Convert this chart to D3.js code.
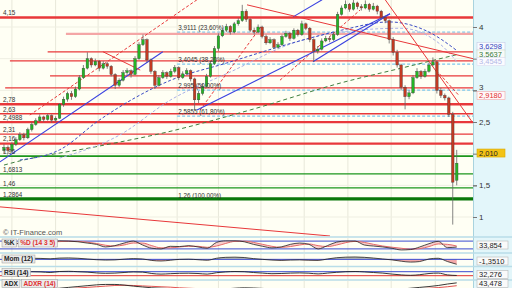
<!DOCTYPE html>
<html lang="fr">
<head>
<meta charset="UTF-8">
<title>Cours - IT-Finance</title>
<script src="https://d3js.org/d3.v7.min.js"></script>
<style>
  body { margin: 0; background: #ffffff; }
  svg { display: block; font-family: 'Liberation Sans', Arial, sans-serif; }
  .lvl-label, .fib-label { font-size: 6.3px; fill: #333; }
  .y-axis text { font-size: 8px; fill: #333; }
  .y-axis line { stroke: #777; }
  .y-axis path { display: none; }
  .tag text { font-size: 7.5px; }
  .box-label { font-size: 6.6px; font-weight: bold; }
</style>
</head>
<body>
<svg width="512" height="288"></svg>
<script>
// ---- data ----
// daily candles: [open, high, low, close]
const candles = [
  [2.05,2.15,2.00,2.10],[2.10,2.13,2.00,2.05],[2.05,2.18,2.03,2.15],[2.15,2.26,2.12,2.22],[2.22,2.34,2.20,2.30],
  [2.30,2.33,2.21,2.25],[2.25,2.41,2.23,2.38],[2.38,2.50,2.35,2.46],[2.46,2.56,2.44,2.52],[2.52,2.62,2.50,2.58],
  [2.58,2.60,2.50,2.54],[2.54,2.63,2.52,2.60],[2.60,2.62,2.49,2.53],[2.53,2.59,2.50,2.56],[2.56,2.80,2.55,2.78],
  [2.78,2.90,2.74,2.86],[2.86,2.98,2.82,2.95],[2.95,2.99,2.85,2.90],[2.90,3.06,2.88,3.02],[3.02,3.24,3.00,3.20],
  [3.20,3.40,3.18,3.35],[3.35,3.60,3.33,3.50],[3.50,3.52,3.36,3.40],[3.40,3.50,3.38,3.46],[3.46,3.48,3.30,3.35],
  [3.35,3.46,3.33,3.42],[3.42,3.45,3.34,3.38],[3.38,3.40,3.22,3.25],[3.25,3.27,3.02,3.08],[3.08,3.19,3.05,3.16],
  [3.16,3.32,3.14,3.28],[3.28,3.35,3.24,3.31],[3.31,3.33,3.20,3.25],[3.25,3.54,3.24,3.50],[3.50,3.76,3.48,3.72],
  [3.72,3.88,3.70,3.80],[3.80,3.82,3.44,3.48],[3.48,3.50,3.26,3.30],[3.30,3.32,3.02,3.08],[3.08,3.24,3.06,3.20],
  [3.20,3.32,3.18,3.28],[3.28,3.30,3.18,3.22],[3.22,3.34,3.20,3.30],[3.30,3.40,3.27,3.36],[3.36,3.38,3.16,3.20],
  [3.20,3.30,3.18,3.26],[3.26,3.35,3.24,3.31],[3.31,3.33,3.14,3.18],[3.18,3.20,2.69,2.85],[2.85,2.99,2.80,2.95],
  [2.95,3.10,2.92,3.06],[3.06,3.26,3.04,3.22],[3.22,3.46,3.20,3.42],[3.42,3.70,3.40,3.66],[3.66,3.90,3.62,3.86],
  [3.86,3.99,3.84,3.95],[3.95,4.05,3.92,4.01],[4.01,4.03,3.88,3.92],[3.92,4.08,3.90,4.05],[4.05,4.14,4.02,4.10],
  [4.10,4.35,4.08,4.25],[4.25,4.28,4.08,4.12],[4.12,4.14,3.92,3.95],[3.95,3.99,3.88,3.92],[3.92,4.04,3.90,4.00],
  [4.00,4.02,3.82,3.85],[3.85,3.88,3.72,3.75],[3.75,3.84,3.73,3.80],[3.80,3.82,3.65,3.68],[3.68,3.76,3.66,3.72],
  [3.72,3.88,3.70,3.85],[3.85,3.94,3.83,3.90],[3.90,3.92,3.78,3.82],[3.82,3.98,3.80,3.95],[3.95,3.97,3.85,3.88],
  [3.88,4.10,3.86,4.05],[4.05,4.07,3.95,3.98],[3.98,4.00,3.76,3.80],[3.80,3.82,3.45,3.62],[3.62,3.70,3.58,3.65],
  [3.65,3.82,3.63,3.78],[3.78,3.86,3.76,3.82],[3.82,3.85,3.76,3.80],[3.80,3.92,3.78,3.88],[3.88,4.24,3.86,4.20],
  [4.20,4.34,4.18,4.30],[4.30,4.42,4.28,4.36],[4.36,4.38,4.24,4.28],[4.28,4.45,4.26,4.38],[4.38,4.40,4.28,4.32],
  [4.32,4.36,4.26,4.30],[4.30,4.42,4.28,4.36],[4.36,4.38,4.24,4.28],[4.28,4.38,4.26,4.33],[4.33,4.35,4.20,4.25],
  [4.25,4.27,4.12,4.15],[4.15,4.18,4.06,4.10],[4.10,4.12,3.74,3.80],[3.80,3.84,3.55,3.60],[3.60,3.64,3.36,3.40],
  [3.40,3.42,3.00,3.05],[3.05,3.08,2.70,2.90],[2.90,3.00,2.86,2.96],[2.96,3.24,2.94,3.20],[3.20,3.35,3.18,3.30],
  [3.30,3.32,3.18,3.22],[3.22,3.34,3.20,3.30],[3.30,3.44,3.28,3.40],[3.40,3.52,3.38,3.45],[3.45,3.47,2.95,3.00],
  [3.00,3.04,2.88,2.92],[2.92,2.95,2.84,2.88],[2.88,2.90,2.58,2.62],[2.62,2.66,0.88,1.55],[1.58,2.06,1.50,1.85]
];

// horizontal support / resistance levels
const redLevels = [4.15, 3.89, 3.607, 3.464, 3.227, 3.038, 2.78, 2.63, 2.4988, 2.31, 2.16];
const redFrom   = [-1, 15.6, 11, 1.5, 11.6, 0.3, -1, -1, -1, -1, -1];   // candle index where each level starts
const redLabels = ["4,15", "", "", "", "", "", "2,78", "2,63", "2,4988", "2,31", "2,16"];
const greenLevels = [1.96, 1.6813, 1.46, 1.2864];
const greenLabels = ["1,96", "1,6813", "1,46", "1,2864"];

// fibonacci retracement
const fibValues = [3.9111, 3.4045, 2.995, 2.5855, 1.26];
const fibPct = ["23,60%", "38,20%", "50,00%", "61,80%", "100,00%"];
const fibFrom = 43.6;

// moving averages (candle index, value)
const maBlueIdx = [4, 14, 24, 42, 56, 75, 85, 97, 107, 114];
const maBlue    = [1.90, 2.06, 2.53, 3.16, 3.43, 3.79, 3.95, 4.08, 3.92, 3.6298];
const maLavIdx  = [14, 29, 42, 57, 73, 89, 100, 110, 114];
const maLav     = [1.93, 2.29, 2.85, 3.29, 3.75, 3.95, 3.98, 3.72, 3.4545];
const maGreenIdx = [0, 3, 24, 41, 62, 85, 100, 114];
const maGreen    = [1.82, 1.87, 2.12, 2.34, 2.69, 3.12, 3.35, 3.5637];

// trend lines [idx1, price1, idx2, price2]
const blueTrends = [[-1, 1.87, 40, 3.61], [48.6, 2.69, 97.2, 4.21], [77.8, 3.45, 97.2, 4.21], [72.8, 4.16, 80.1, 4.43]];
const redTrends = [[61.2, 4.35, 118.1, 3.50], [96, 4.43, 117.9, 2.50], [24.9, 3.61, 34.3, 3.32], [-1, 1.16, 82.1, 0.70]];
const redDashTrends = [[6.5, 2.61, 48.6, 4.43], [49.4, 2.69, 65, 4.03], [69.5, 3.16, 89.7, 4.27], [108.8, 3.32, 114.4, 2.93]];

// right-hand price tags
const tagValues = [3.6298, 3.5637, 3.4545, 2.918, 2.010];
const tagTexts  = ["3,6298", "3,5637", "3,4545", "2,9180", "2,010"];

const priceTicks = [1, 1.5, 2, 2.5, 3, 3.5, 4];
const gridIdx = [2, 13, 23.7, 33.5, 43.6, 54, 64.7, 75.6, 86.6, 97.5, 108.6];

// indicators (same spacing, last point = last candle)
const kValues = [60,55,75,85,80,70,82,80,75,65,55,35,45,65,80,50,25,20,40,38,45,35,25,70,82,82,75,55,40,28,35,55,65,55,20,45,72,80,80,50,42,35,25,12,15,35,60,78,30,33.854];
const dValues = [62,58,65,75,80,75,76,79,78,72,62,48,42,50,65,65,45,28,28,35,40,40,32,42,62,78,80,70,55,40,32,38,50,58,45,38,50,68,78,70,55,42,33,25,18,22,38,58,55,42];
const momValues = [0.15,0.10,0.25,0.30,0.25,0.15,0.35,0.40,0.30,0.10,-0.10,-0.20,-0.15,0.05,0.20,0.10,-0.30,-0.45,-0.25,0.00,0.05,-0.10,-0.25,0.30,0.55,0.60,0.50,0.20,0.00,-0.20,-0.30,-0.20,-0.15,-0.25,-0.30,0.10,0.45,0.60,0.65,0.55,0.35,0.10,-0.15,-0.50,-0.75,-0.60,0.10,0.30,-0.60,-1.351];
const rsiValues = [58,56,65,70,68,62,72,74,70,66,58,54,56,62,68,66,52,46,50,54,55,52,46,60,68,72,70,62,56,50,52,56,58,55,48,56,64,70,72,68,62,56,46,38,34,40,52,56,38,32.276];
const adxValues = [10,10,12,14,15,16,18,22,26,30,34,36,36,33,28,24,20,18,16,14,12,11,10,12,15,18,20,19,17,15,13,12,11,10,10,11,12,14,15,15,14,13,12,14,18,22,26,31,38,43.478];
const adxrValues = [9,9,10,11,12,13,14,16,19,22,25,28,31,32,31,29,27,25,23,20,18,16,14,13,13,14,15,16,16,16,15,14,13,12,11,11,11,12,13,13,13,13,13,13,14,16,18,21,25,30];

// ---- layout ----
const W = 512, H = 288;
const plotRight = 473;
const mainBottom = 237;
const comma = v => String(v).replace(".", ",");

const svg = d3.select("svg");
const x = d3.scaleLinear().domain([-1, 118.1]).range([0, plotRight]);
const y = d3.scaleLinear().domain([1, 4]).range([217, 27]);
const xEnd = 118.1;

const defs = svg.append("defs");
defs.append("clipPath").attr("id", "clipMain").append("rect")
    .attr("x", 0).attr("y", 0).attr("width", plotRight).attr("height", mainBottom);

// backgrounds
svg.append("rect").attr("width", W).attr("height", H).attr("fill", "#fffff4");
svg.append("rect").attr("x", plotRight).attr("width", W - plotRight).attr("height", H).attr("fill", "#e3f6fa");
svg.append("line").attr("x1", plotRight + 0.5).attr("x2", plotRight + 0.5).attr("y1", 0).attr("y2", H)
    .attr("stroke", "#a9d3de");

const gMain = svg.append("g").attr("clip-path", "url(#clipMain)");

// grid
gMain.selectAll(".vgrid").data(gridIdx).join("line")
    .attr("x1", d => x(d)).attr("x2", d => x(d)).attr("y1", 0).attr("y2", mainBottom)
    .attr("stroke", "#e8e8da");
gMain.selectAll(".hgrid").data(priceTicks).join("line")
    .attr("x1", 0).attr("x2", plotRight).attr("y1", d => y(d)).attr("y2", d => y(d))
    .attr("stroke", "#efefe2");

// fibonacci dashed levels
gMain.selectAll(".fib").data(fibValues.slice(0, 4)).join("line")
    .attr("x1", x(fibFrom)).attr("x2", x(xEnd)).attr("y1", d => y(d) - 0.5).attr("y2", d => y(d) - 0.5)
    .attr("stroke", "#7cc8ee").attr("stroke-width", 1.2).attr("stroke-dasharray", "3,2");

// red levels
const heavyRed = [4.15, 2.78, 2.4988, 2.16];
gMain.selectAll(".red-lvl").data(redLevels).join("line")
    .attr("x1", (d, i) => x(redFrom[i])).attr("x2", x(xEnd))
    .attr("y1", d => y(d)).attr("y2", d => y(d))
    .attr("stroke", d => d === 3.89 ? "#f4a6a6" : "#e8383a")
    .attr("stroke-width", d => d === 3.89 ? 2.2 : (heavyRed.includes(d) ? 2.3 : 1.3));

// green levels
gMain.selectAll(".green-lvl").data(greenLevels).join("line")
    .attr("x1", x(-1)).attr("x2", x(xEnd))
    .attr("y1", d => y(d)).attr("y2", d => y(d))
    .attr("stroke", (d, i) => i === 3 ? "#0a780a" : "#1c961c")
    .attr("stroke-width", (d, i) => i === 3 ? 3.2 : (i === 0 ? 1.8 : 1.3));

// moving averages
const maLine = d3.line().x(d => x(d[0])).y(d => y(d[1])).curve(d3.curveMonotoneX);
gMain.append("path").datum(d3.zip(maGreenIdx, maGreen)).attr("d", maLine)
    .attr("fill", "none").attr("stroke", "#3f7f3f").attr("stroke-width", 1).attr("stroke-dasharray", "4,3");
gMain.append("path").datum(d3.zip(maLavIdx, maLav)).attr("d", maLine)
    .attr("fill", "none").attr("stroke", "#aab0e6").attr("stroke-width", 1).attr("stroke-dasharray", "3,2");
gMain.append("path").datum(d3.zip(maBlueIdx, maBlue)).attr("d", maLine)
    .attr("fill", "none").attr("stroke", "#3b4cc4").attr("stroke-width", 1).attr("stroke-dasharray", "3,2");

// trend lines
function drawTrends(data, color, width, dash) {
    gMain.append("g").selectAll("line").data(data).join("line")
        .attr("x1", d => x(d[0])).attr("y1", d => y(d[1]))
        .attr("x2", d => x(d[2])).attr("y2", d => y(d[3]))
        .attr("stroke", color).attr("stroke-width", width)
        .attr("stroke-dasharray", dash);
}
drawTrends(redDashTrends, "#e8383a", 1, "3,2");
drawTrends(blueTrends, "#3a42e0", 1.1, null);
drawTrends(redTrends, "#e8383a", 1, null);

// candles
const bw = 2.6;
gMain.append("g").selectAll("line").data(candles).join("line")
    .attr("x1", (d, i) => x(i)).attr("x2", (d, i) => x(i))
    .attr("y1", d => y(d[1])).attr("y2", d => y(d[2]))
    .attr("stroke", "#666").attr("stroke-width", 0.8);
gMain.append("g").selectAll("rect").data(candles).join("rect")
    .attr("x", (d, i) => x(i) - bw / 2)
    .attr("y", d => y(Math.max(d[0], d[3])))
    .attr("width", bw)
    .attr("height", d => Math.max(0.8, Math.abs(y(d[0]) - y(d[3]))))
    .attr("fill", d => d[3] >= d[0] ? "#24b424" : "#c23a22")
    .attr("stroke", "#3a3a3a").attr("stroke-width", 0.35);

// level labels
const lvlLabels = d3.zip(redLevels, redLabels).concat(d3.zip(greenLevels, greenLabels)).filter(d => d[1]);
svg.append("g").selectAll("text").data(lvlLabels).join("text")
    .attr("class", "lvl-label").attr("x", 3).attr("y", d => y(d[0]) - 2.2).text(d => d[1]);

svg.append("g").selectAll("text").data(d3.zip(fibValues, fibPct)).join("text")
    .attr("class", "fib-label").attr("x", x(fibFrom) + 1).attr("y", d => y(d[0]) - 2.5)
    .text(d => `${comma(d[0])} (${d[1]})`);

svg.append("text").attr("x", 3).attr("y", 235).attr("font-size", 7.5).attr("fill", "#555")
    .text("© IT-Finance.com");

// right tags with simple collision avoidance
const tagY = tagValues.map(v => y(v));
for (let i = tagY.length - 2; i >= 0; i--) {
    if (tagY[i + 1] - tagY[i] < 7.6) tagY[i] = tagY[i + 1] - 7.6;
}

// right axis (tick labels hidden under a tag are left out, near ones nudged up)
const visibleTicks = priceTicks.filter(t => tagY.every(ty => Math.abs(y(t) - ty) > 4.5));
const yAxisG = svg.append("g").attr("class", "y-axis").attr("transform", `translate(${plotRight},0)`)
    .call(d3.axisRight(y).tickValues(visibleTicks).tickSize(4).tickPadding(2).tickFormat(comma));
yAxisG.selectAll(".tick text").attr("dy", t => {
    const gap = d3.min(tagY, ty => Math.abs(y(t) - ty));
    return gap < 8.5 ? (0.32 * 8 - (8.5 - gap)) + "px" : "0.32em";
});
svg.append("g").attr("class", "y-axis").attr("transform", `translate(${plotRight},0)`)
    .call(d3.axisRight(y).tickValues(priceTicks).tickSize(4).tickFormat(""));

const tagStyle = [
    { fg: "#3344bb", bg: "#f8fbff", bd: "#c6cbe6" },
    { fg: "#3a7a3a", bg: "#f8fbf8", bd: "#c6d6c6" },
    { fg: "#b4b8e6", bg: "#fbfbff", bd: "#dcdcf0" },
    { fg: "#e03030", bg: "#fff8f8", bd: "#f0a8a8" },
    { fg: "#222222", bg: "#f3c316", bd: "#d9a800" }
];
const tags = svg.append("g").attr("class", "tag").selectAll("g").data(tagTexts).join("g")
    .attr("transform", (d, i) => `translate(477,${tagY[i]})`);
tags.append("rect").attr("x", 0).attr("y", -4).attr("width", 28).attr("height", 8)
    .attr("fill", (d, i) => tagStyle[i].bg).attr("stroke", (d, i) => tagStyle[i].bd).attr("stroke-width", 0.6);
tags.append("text").attr("x", 2).attr("y", 2.8).attr("fill", (d, i) => tagStyle[i].fg).text(d => d);

// ---- indicator panels ----
const xo = d3.scaleLinear().domain([0, kValues.length - 1]).range([x(0), x(candles.length - 1)]);
const panels = [
    { top: 237.5, bottom: 252.5 },
    { top: 253.5, bottom: 266 },
    { top: 267, bottom: 280 },
    { top: 280.5, bottom: 295 }
];
panels.forEach((p, i) => {
    defs.append("clipPath").attr("id", "clipP" + i).append("rect")
        .attr("x", 0).attr("y", p.top).attr("width", plotRight).attr("height", p.bottom - p.top);
    svg.append("line").attr("x1", 0).attr("x2", W).attr("y1", p.top - 0.5).attr("y2", p.top - 0.5)
        .attr("stroke", "#b9dde8").attr("stroke-width", 1.4);
    svg.append("g").attr("clip-path", `url(#clipP${i})`).selectAll("line").data(gridIdx).join("line")
        .attr("x1", d => x(d)).attr("x2", d => x(d)).attr("y1", p.top).attr("y2", p.bottom)
        .attr("stroke", "#e8e8da");
});

function refLine(g, yv, color) {
    g.append("line").attr("x1", 0).attr("x2", plotRight).attr("y1", yv).attr("y2", yv)
        .attr("stroke", color).attr("stroke-width", 1);
}

// %K %D
const y1 = d3.scaleLinear().domain([0, 100]).range([251.5, 238.5]);
const g1 = svg.append("g").attr("clip-path", "url(#clipP0)");
refLine(g1, y1(80), "#3a4ad0"); refLine(g1, y1(20), "#3a4ad0");
g1.append("path").datum(d3.zip(kValues, dValues))
    .attr("d", d3.area().x((d, i) => xo(i)).y0(d => y1(d[1])).y1(d => y1(d[0])).curve(d3.curveMonotoneX))
    .attr("fill", "#f5b9b9").attr("opacity", 0.7);
g1.append("path").datum(dValues).attr("d", d3.line().x((d, i) => xo(i)).y(d => y1(d)).curve(d3.curveMonotoneX))
    .attr("fill", "none").attr("stroke", "#e46a6a").attr("stroke-width", 1);
g1.append("path").datum(kValues).attr("d", d3.line().x((d, i) => xo(i)).y(d => y1(d)).curve(d3.curveMonotoneX))
    .attr("fill", "none").attr("stroke", "#222").attr("stroke-width", 0.8);

// Momentum
const y2 = d3.scaleLinear().domain([-1.6, 1.6]).range([265.2, 253.5]);
const g2 = svg.append("g").attr("clip-path", "url(#clipP1)");
const momArea = d3.area().x((d, i) => xo(i)).y0(y2(0)).y1(d => y2(d)).curve(d3.curveMonotoneX);
defs.append("clipPath").attr("id", "momPos").append("rect").attr("x", 0).attr("y", 250).attr("width", plotRight).attr("height", y2(0) - 250);
defs.append("clipPath").attr("id", "momNeg").append("rect").attr("x", 0).attr("y", y2(0)).attr("width", plotRight).attr("height", 20);
g2.append("path").datum(momValues).attr("d", momArea).attr("fill", "#b8bcb0").attr("clip-path", "url(#momPos)");
g2.append("path").datum(momValues).attr("d", momArea).attr("fill", "#f3a9a9").attr("clip-path", "url(#momNeg)");
refLine(g2, y2(0), "#3a4ad0");
g2.append("path").datum(momValues).attr("d", d3.line().x((d, i) => xo(i)).y(d => y2(d)).curve(d3.curveMonotoneX))
    .attr("fill", "none").attr("stroke", "#222").attr("stroke-width", 0.8);

// RSI
const y3 = d3.scaleLinear().domain([0, 100]).range([278.7, 268.7]);
const g3 = svg.append("g").attr("clip-path", "url(#clipP2)");
refLine(g3, y3(70), "#3a4ad0"); refLine(g3, y3(30), "#e03030");
g3.append("path").datum(rsiValues).attr("d", d3.line().x((d, i) => xo(i)).y(d => y3(d)).curve(d3.curveMonotoneX))
    .attr("fill", "none").attr("stroke", "#222").attr("stroke-width", 0.9);

// ADX / ADXR
const y4 = d3.scaleLinear().domain([0, 50]).range([292, 281.5]);
const g4 = svg.append("g").attr("clip-path", "url(#clipP3)");
g4.append("path").datum(adxrValues).attr("d", d3.line().x((d, i) => xo(i)).y(d => y4(d)).curve(d3.curveMonotoneX))
    .attr("fill", "none").attr("stroke", "#e04040").attr("stroke-width", 0.9);
g4.append("path").datum(adxValues).attr("d", d3.line().x((d, i) => xo(i)).y(d => y4(d)).curve(d3.curveMonotoneX))
    .attr("fill", "none").attr("stroke", "#222").attr("stroke-width", 0.9);

// panel name boxes
const panelNames = [
    [["%K", "#222"], ["%D (14 3 5)", "#e03030"]],
    [["Mom (12)", "#222"]],
    [["RSI (14)", "#222"]],
    [["ADX", "#222"], ["ADXR (14)", "#e03030"]]
];
panelNames.forEach((names, i) => {
    let cx = 2;
    const top = Math.min(panels[i].top + 1.5, H - 8.5);
    names.forEach(([txt, col]) => {
        const g = svg.append("g");
        const t = g.append("text").attr("class", "box-label").attr("x", cx + 2).attr("y", top + 6.2)
            .attr("fill", col).text(txt);
        const w = t.node().getComputedTextLength() + 4;
        g.insert("rect", "text").attr("x", cx).attr("y", top).attr("width", w).attr("height", 8)
            .attr("fill", "#ebebeb").attr("stroke", "#a8a8a8").attr("stroke-width", 0.6);
        cx += w + 1.5;
    });
});

// panel value tags
const panelLast = [kValues, momValues, rsiValues, adxValues].map(a => a[a.length - 1]);
const panelTagText = [comma(panelLast[0]), comma(panelLast[1].toFixed(4)), comma(panelLast[2]), comma(panelLast[3])];
const ptags = svg.append("g").attr("class", "tag").selectAll("g").data(panelTagText).join("g")
    .attr("transform", (d, i) => `translate(477,${Math.min(panels[i].top + 7.5, H - 4.5)})`);
ptags.append("rect").attr("x", 0).attr("y", -4).attr("width", 31).attr("height", 8)
    .attr("fill", "#fafafa").attr("stroke", "#b8b8b8").attr("stroke-width", 0.6);
ptags.append("text").attr("x", 2).attr("y", 2.7).attr("fill", "#222").text(d => d);
</script>
</body>
</html>
